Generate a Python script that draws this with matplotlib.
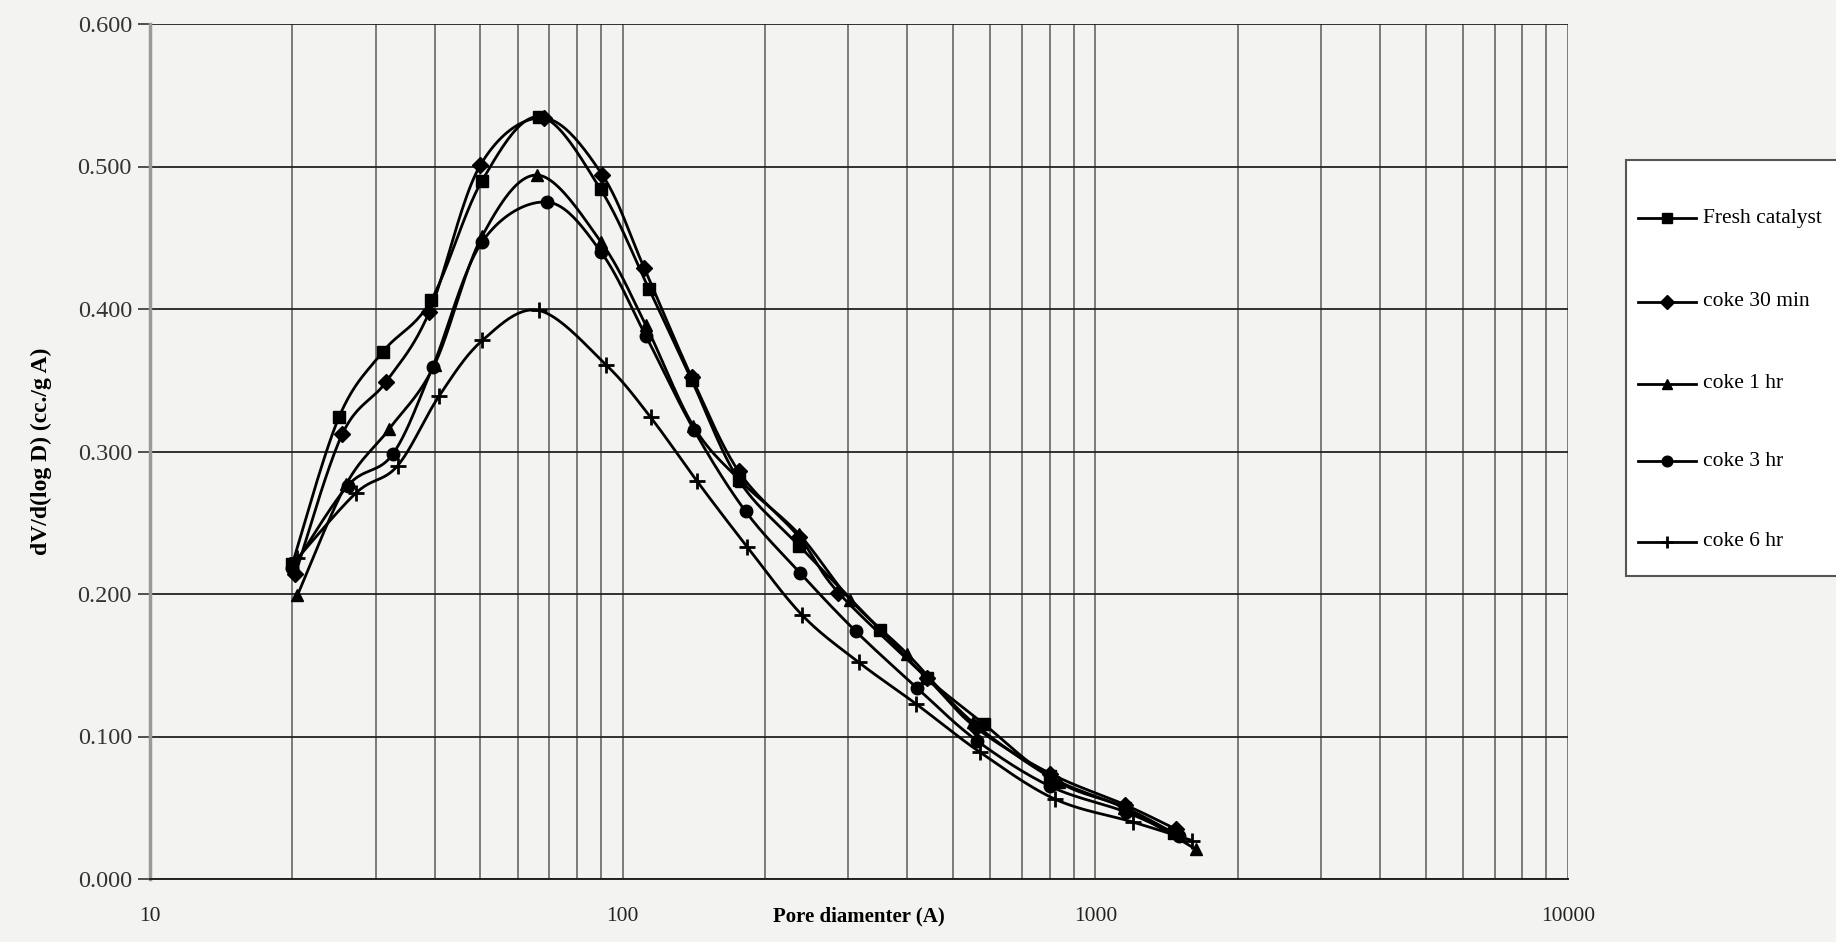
import numpy as np
import matplotlib
matplotlib.use("Agg")
import matplotlib.pyplot as plt
from matplotlib.lines import Line2D
from matplotlib.patches import Rectangle

# ---------------- data ----------------
series_names = ["Fresh catalyst", "coke 30 min", "coke 1 hr", "coke 3 hr", "coke 6 hr"]

fresh_x = [20.0, 25.1, 31.1, 39.3, 50.4, 66.6, 89.8, 113.7, 140, 176, 236, 351, 441, 580, 800, 1157, 1470]
fresh_y = [0.221, 0.324, 0.370, 0.406, 0.490, 0.535, 0.484, 0.414, 0.350, 0.280, 0.234, 0.175, 0.141, 0.109, 0.072, 0.050, 0.032]

coke30_x = [20.3, 25.5, 31.6, 39.0, 50.0, 68.2, 90.6, 111, 140, 176, 236, 286, 440, 560, 803, 1157, 1480]
coke30_y = [0.214, 0.312, 0.349, 0.398, 0.501, 0.534, 0.494, 0.429, 0.352, 0.286, 0.240, 0.201, 0.141, 0.106, 0.074, 0.052, 0.035]

coke1_x = [20.5, 26.0, 32.1, 40.0, 50.4, 66.0, 90.0, 111.8, 141, 178, 236, 303, 400, 550, 836, 1150, 1629]
coke1_y = [0.199, 0.277, 0.316, 0.361, 0.451, 0.494, 0.447, 0.389, 0.318, 0.279, 0.242, 0.196, 0.158, 0.110, 0.068, 0.050, 0.021]

coke3_x = [20.0, 26.2, 32.6, 39.6, 50.4, 69.3, 90.0, 112, 141.6, 182, 237, 311, 420, 562, 803, 1160, 1500]
coke3_y = [0.218, 0.276, 0.298, 0.359, 0.447, 0.475, 0.440, 0.381, 0.315, 0.258, 0.215, 0.174, 0.134, 0.097, 0.065, 0.047, 0.030]

coke6_x = [20.5, 27.3, 33.4, 40.9, 50.5, 66.4, 92.1, 114.6, 143.8, 183.5, 240, 316, 417, 570, 822, 1200, 1603]
coke6_y = [0.225, 0.271, 0.290, 0.339, 0.378, 0.399, 0.361, 0.324, 0.279, 0.233, 0.185, 0.152, 0.123, 0.089, 0.056, 0.040, 0.027]

y_ticks = [0.0, 0.1, 0.2, 0.3, 0.4, 0.5, 0.6]
y_tick_labels = ["0.000", "0.100", "0.200", "0.300", "0.400", "0.500", "0.600"]
x_ticks = [10, 100, 1000, 10000]
x_tick_labels = ["10", "100", "1000", "10000"]

xs_all = [fresh_x, coke30_x, coke1_x, coke3_x, coke6_x]
ys_all = [fresh_y, coke30_y, coke1_y, coke3_y, coke6_y]
markers = ["s", "D", "^", "o", "+"]
msizes = [9, 8, 9, 9, 11]


def smooth(xs, ys, n=24):
    """Excel-style smoothed line (Catmull-Rom Bezier) in log-x space."""
    P = np.column_stack([np.log10(xs), np.asarray(ys, float)])
    P = np.vstack([P[0], P, P[-1]])
    out = []
    t = np.linspace(0, 1, n, endpoint=False)[:, None]
    for i in range(1, len(P) - 2):
        p0, p1, p2, p3 = P[i - 1], P[i], P[i + 1], P[i + 2]
        c1 = p1 + (p2 - p0) / 6.0
        c2 = p2 - (p3 - p1) / 6.0
        b = (1 - t) ** 3 * p1 + 3 * (1 - t) ** 2 * t * c1 + 3 * (1 - t) * t ** 2 * c2 + t ** 3 * p2
        out.append(b)
    out.append(P[-2][None, :])
    arr = np.vstack(out)
    return 10 ** arr[:, 0], arr[:, 1]


plt.rcParams["font.family"] = ["Liberation Serif", "DejaVu Serif"]

W, H = 1836, 942
fig = plt.figure(figsize=(W / 100, H / 100), dpi=100)
fig.patch.set_facecolor("#f3f3f1")

ax = fig.add_axes([150 / W, 1 - 879 / H, (1568 - 150) / W, (879 - 24) / H])
ax.set_facecolor("none")
ax.set_xscale("log")
ax.set_xlim(10, 10000)
ax.set_ylim(0, 0.6)

# grid
minor = [m * 10 ** d for d in range(1, 4) for m in range(2, 10)]
for xv in minor + x_ticks:
    ax.axvline(xv, color="#5a5a5a", lw=1.1, zorder=1)
for yv in y_ticks:
    ax.axhline(yv, color="#222222", lw=1.3, zorder=1)

for s in ["top", "right"]:
    ax.spines[s].set_visible(False)
ax.spines["left"].set_color("#9a9a9a")
ax.spines["left"].set_linewidth(2.5)
ax.spines["bottom"].set_color("#222222")
ax.spines["bottom"].set_linewidth(1.4)

ax.set_yticks(y_ticks)
ax.set_yticklabels(y_tick_labels, fontsize=17.5, color="#333333")
ax.set_xticks(x_ticks)
ax.set_xticklabels(x_tick_labels, fontsize=15.5, color="#222222")
ax.xaxis.set_minor_locator(matplotlib.ticker.NullLocator())
ax.tick_params(axis="y", length=9, width=1.2, color="#333333", pad=4)
ax.tick_params(axis="x", length=0, pad=20)

for xs, ys, mk, ms in zip(xs_all, ys_all, markers, msizes):
    sx, sy = smooth(xs, ys)
    ax.plot(sx, sy, color="black", lw=2.0, zorder=3, solid_capstyle="round")
    mew = 2.0 if mk == "+" else 1.0
    ax.plot(xs, ys, linestyle="none", marker=mk, ms=ms, color="black",
            markeredgewidth=mew, zorder=4)

ax.text(0.5, -0.032, "Pore diamenter (A)", transform=ax.transAxes, ha="center",
        va="top", fontsize=15, fontweight="bold")
fig.text(41 / W, 1 - 451 / H, "dV/d(log D) (cc./g A)", rotation=90, ha="center",
         va="center", fontsize=17, fontweight="bold")

# legend (manual, box runs off the right edge as in the scan)
box_l, box_t, box_b = 1626, 160, 576
fig.patches.append(Rectangle((box_l / W, 1 - box_b / H), (W + 20 - box_l) / W,
                             (box_b - box_t) / H, transform=fig.transFigure,
                             facecolor="white", edgecolor="#555555", lw=1.5,
                             zorder=5))
entry_y = [218, 302, 384, 461, 542]
for name, mk, ms, ey in zip(series_names, markers, msizes, entry_y):
    yf = 1 - ey / H
    mew = 2.0 if mk == "+" else 1.0
    fig.add_artist(Line2D([1638 / W, 1696 / W], [yf, yf], color="black", lw=2.0,
                          transform=fig.transFigure, zorder=6))
    fig.add_artist(Line2D([1667 / W], [yf], marker=mk, ms=ms * 0.85, color="black",
                          markeredgewidth=mew, transform=fig.transFigure, zorder=6))
    fig.text(1703 / W, yf, name, fontsize=15.5, va="center", ha="left", zorder=7)

fig.savefig("out.png", dpi=100, facecolor=fig.get_facecolor())
